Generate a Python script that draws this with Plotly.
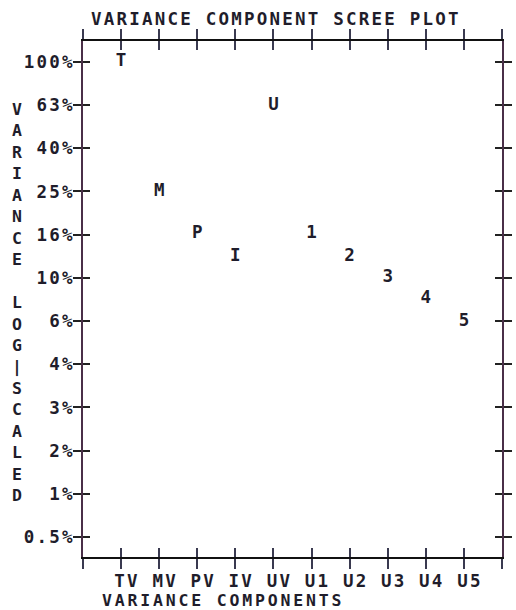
import plotly.graph_objects as go

# Variance components and their share of total variance (percent)
components = ["TV", "MV", "PV", "IV", "UV", "U1", "U2", "U3", "U4", "U5"]
symbols = ["T", "M", "P", "I", "U", "1", "2", "3", "4", "5"]
variance_pct = [100, 25, 16, 12.5, 63, 16, 12.5, 10, 8, 6.3]

# Log-scaled y ticks (steps of 0.2 decade) and their printed labels
y_tick_text = ["100%", "63%", "40%", "25%", "16%", "10%", "6%", "4%", "3%", "2%", "1%", "0.5%"]
y_tick_vals = [10 ** (2 - 0.2 * k) for k in range(len(y_tick_text))]

FONT = "DejaVu Sans Mono"
SIZE = 17.5
ROW_SIZE = 16.5          # vertical title and bottom title
INK = "#1f1d2b"
CELL = 12.75             # printed character cell width


def spaced(s, size=SIZE):
    gap = CELL - 0.602 * size
    return f'<span style="letter-spacing:{gap:.2f}px">{s}</span>'


def bold(size=SIZE):
    return dict(family=FONT, size=size, color=INK, weight="bold")


x_pos = list(range(1, len(components) + 1))
x_ticks = list(range(0, len(components) + 2))
x_tick_text = [""] + [spaced(c) for c in components] + [""]

fig = go.Figure()
fig.add_trace(go.Scatter(
    x=x_pos, y=variance_pct, mode="text", text=symbols,
    textposition="middle center", textfont=bold(),
    hoverinfo="skip", showlegend=False,
))
# companion trace so the overlaid axes (inner half of the ticks) are drawn
fig.add_trace(go.Scatter(x=[None], y=[None], xaxis="x2", yaxis="y2",
                         showlegend=False, hoverinfo="skip"))

x_range = [0, len(components) + 1]
y_range = [-0.293, 2.097]

fig.update_layout(
    width=516, height=610,
    margin=dict(l=83, r=4, t=41, b=53),
    paper_bgcolor="white", plot_bgcolor="white",
    font=bold(),
    xaxis=dict(
        range=x_range, tickvals=x_ticks, ticktext=x_tick_text,
        showline=True, linecolor="#111111", linewidth=1.5, mirror="ticks",
        ticks="outside", ticklen=10, tickwidth=1.5, tickcolor="#3a3a50",
        showgrid=False, zeroline=False, ticklabelshift=6, ticklabelstandoff=-3,
        tickfont=bold(),
    ),
    xaxis2=dict(
        range=x_range, tickvals=x_ticks, overlaying="x", anchor="y", side="bottom",
        showticklabels=False, showline=False, mirror="ticks",
        ticks="inside", ticklen=9, tickwidth=1.5, tickcolor="#3a3a50",
        showgrid=False, zeroline=False,
    ),
    yaxis=dict(
        type="log", range=y_range, tickvals=y_tick_vals,
        ticktext=[spaced(t) for t in y_tick_text],
        showline=True, linecolor="#4a2f48", linewidth=1.5, mirror="ticks",
        ticks="outside", ticklen=8, tickwidth=1.5, tickcolor="#222222",
        showgrid=False, zeroline=False, ticklabelstandoff=-5,
        tickfont=bold(),
    ),
    yaxis2=dict(
        type="log", range=y_range, tickvals=y_tick_vals, overlaying="y",
        anchor="x", side="left",
        showticklabels=False, showline=False, mirror="ticks",
        ticks="inside", ticklen=7, tickwidth=1.5, tickcolor="#222222",
        showgrid=False, zeroline=False,
    ),
    annotations=[
        dict(text=spaced("VARIANCE COMPONENT SCREE PLOT"), xref="paper", yref="paper",
             x=0, y=1, xanchor="left", yanchor="bottom", xshift=6, yshift=10,
             showarrow=False, font=bold()),
        dict(text=spaced("VARIANCE COMPONENTS", ROW_SIZE), xref="paper", yref="paper",
             x=0, y=0, xanchor="left", yanchor="top", xshift=18, yshift=-33,
             borderpad=0, showarrow=False, font=bold(ROW_SIZE)),
        dict(text="<br>".join(list("VARIANCE LOG|SCALED")), xref="paper", yref="paper",
             x=0, y=(557 - 302.5) / 516, xanchor="center", yanchor="middle", xshift=-66,
             showarrow=False, font=bold(ROW_SIZE)),
    ],
)

fig.write_html("out.html")
